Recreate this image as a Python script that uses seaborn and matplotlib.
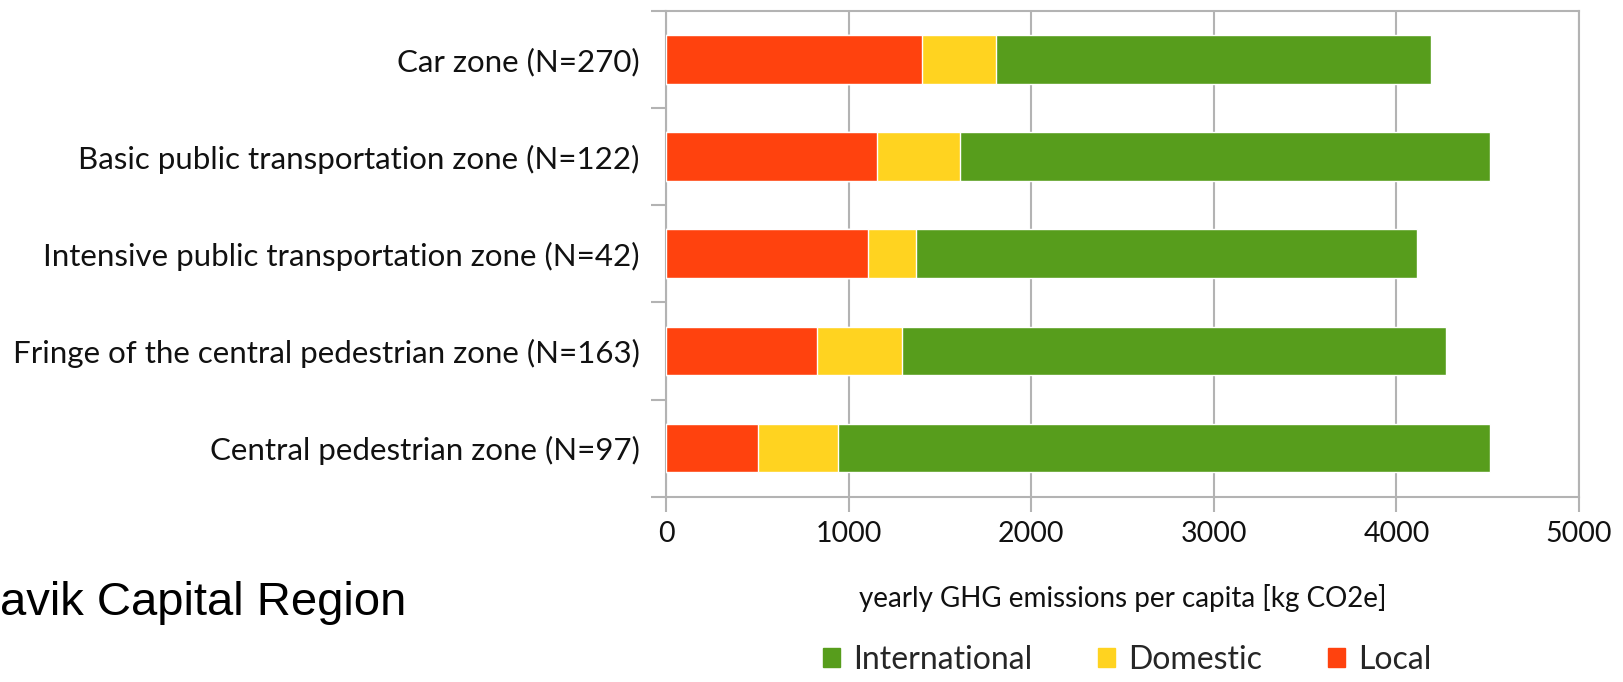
import numpy as np
import pandas as pd
import matplotlib
matplotlib.use("Agg")
import matplotlib.pyplot as plt
import seaborn as sns
from matplotlib.patches import Patch

# values (kg CO2e per capita and year)
zones = ['Car zone (N=270)',
         'Basic public transportation zone (N=122)',
         'Intensive public transportation zone (N=42)',
         'Fringe of the central pedestrian zone (N=163)',
         'Central pedestrian zone (N=97)']
local = [1400, 1157, 1104, 825, 502]
domestic = [408, 454, 263, 465, 438]
international = [2382, 2904, 2748, 2980, 3570]
x_ticks = [0, 1000, 2000, 3000, 4000, 5000]

c_int = '#579d1c'
c_dom = '#ffd320'
c_loc = '#ff420e'
grid_c = '#b3b3b3'

df = pd.DataFrame({'zone': zones, 'Local': local, 'Domestic': domestic,
                   'International': international})
df['cum_dom'] = df['Local'] + df['Domestic']
df['cum_int'] = df['cum_dom'] + df['International']

sns.set_theme(style='white')
plt.rcParams['font.family'] = ['Lato', 'DejaVu Sans']

W, H = 1623, 682
fig = plt.figure(figsize=(W / 100, H / 100), dpi=100)
ax = fig.add_axes([666 / W, 1 - 496.7 / H, (1579 - 666) / W, (496.7 - 10.7) / H])

# stacked bars: draw cumulative totals back to front
sns.barplot(data=df, x='cum_int', y='zone', color=c_int, width=0.5,
            saturation=1, ax=ax, zorder=3)
sns.barplot(data=df, x='cum_dom', y='zone', color=c_dom, width=0.5,
            saturation=1, ax=ax, zorder=3)
sns.barplot(data=df, x='Local', y='zone', color=c_loc, width=0.5,
            saturation=1, ax=ax, zorder=3)

ax.set_xlim(0, 5000)
ax.set_ylim(len(zones) - 0.5, -0.5)
ax.set_xticks(x_ticks)
ax.set_xticklabels([str(t) for t in x_ticks])
ax.grid(axis='x', color=grid_c, linewidth=1.5, zorder=0)
ax.set_axisbelow(True)

for s in ax.spines.values():
    s.set_visible(True)
    s.set_color(grid_c)
    s.set_linewidth(1.5)

# category ticks sit on the boundaries between bars
ax.set_yticks(np.arange(len(zones) + 1) - 0.5, minor=True)
ax.tick_params(axis='y', which='major', length=0, pad=19, labelsize=22.5,
               labelcolor='#111111')
ax.tick_params(axis='y', which='minor', length=10.8, width=1.5, color=grid_c,
               direction='out', left=True)
ax.tick_params(axis='x', which='major', length=10.8, width=1.5, color=grid_c,
               direction='out', bottom=True, pad=7, labelsize=20.5,
               labelcolor='#111111')

ax.set_ylabel('')
ax.set_xlabel('yearly GHG emissions per capita [kg CO2e]', fontsize=20,
              color='#111111', labelpad=26)

handles = [Patch(color=c_int, label='International'),
           Patch(color=c_dom, label='Domestic'),
           Patch(color=c_loc, label='Local')]
fig.legend(handles=handles, loc='center', ncol=3, frameon=False,
           bbox_to_anchor=(1127 / W, 1 - 660 / H), fontsize=23,
           handlelength=0.55, handleheight=0.55, handletextpad=0.4,
           columnspacing=2.05)

fig.text(0, 1 - 603 / H, 'avik Capital Region', fontsize=34,
         family=['Liberation Sans', 'DejaVu Sans'], color='black',
         ha='left', va='center')

fig.savefig('out.png', dpi=100)
